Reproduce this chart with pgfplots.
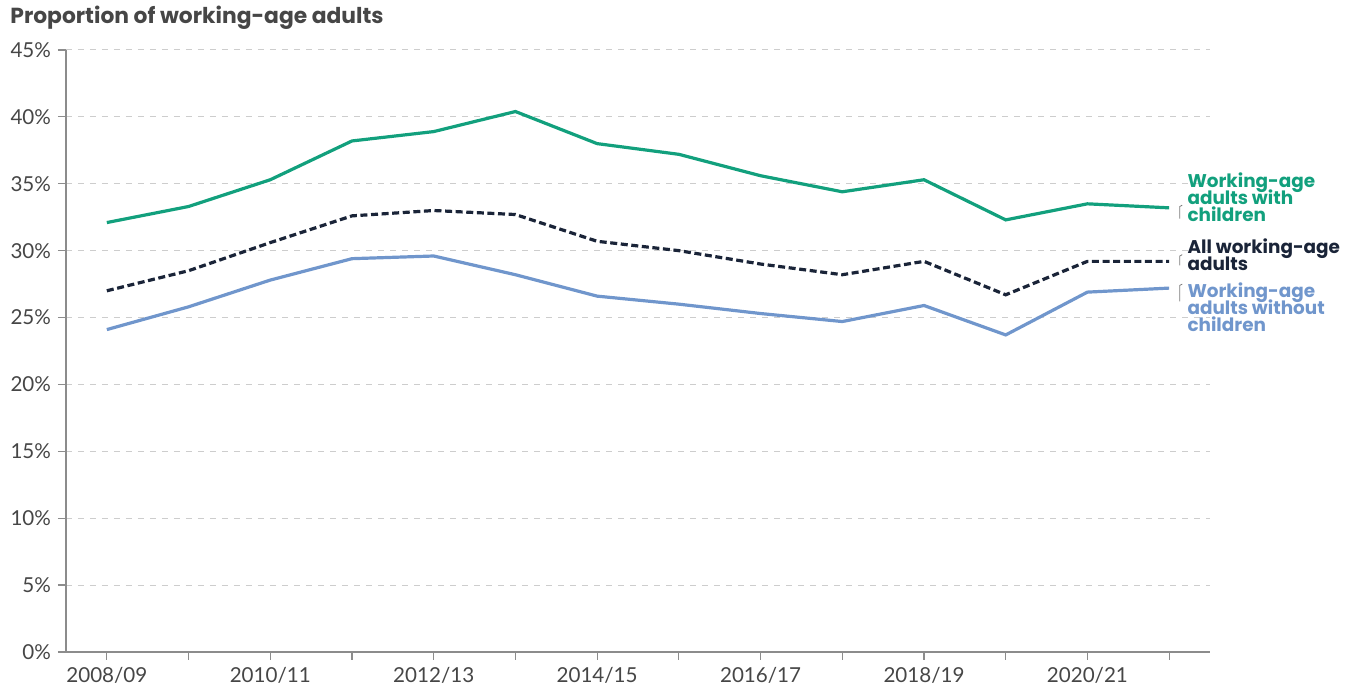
\documentclass[border=0pt]{standalone}
\usepackage{pgfplots}
\pgfplotsset{compat=1.18}
\usepackage{fontspec}
\setmainfont{Poppins}
\newfontfamily\tickfont{Lato}
\newcommand\tightlines{\lineskiplimit=-20pt\relax\lineskip=0pt\relax}
\definecolor{cgreen}{RGB}{18,160,125}
\definecolor{cnavy}{RGB}{26,36,56}
\definecolor{cblue}{RGB}{112,150,204}
\definecolor{ctext}{RGB}{70,70,70}
\definecolor{cgrid}{RGB}{205,205,205}
\definecolor{caxis}{RGB}{140,140,140}
\begin{document}
\begin{tikzpicture}
\begin{axis}[
  scale only axis,
  width=572pt, height=301pt,
  xmin=-0.5, xmax=13.5,
  ymin=0, ymax=45,
  axis x line*=bottom, axis y line*=left,
  axis line style={caxis, line width=0.8pt},
  xtick={0,...,13},
  xticklabels={2008/09,,2010/11,,2012/13,,2014/15,,2016/17,,2018/19,,2020/21,},
  ytick={0,5,...,45},
  yticklabel={\pgfmathprintnumber{\tick}\%},
  /pgf/number format/assume math mode=true,
  tick style={caxis, line width=0.6pt},
  major tick length=4pt,
  xtick align=outside, ytick align=outside,
  ymajorgrids,
  grid style={cgrid, dashed, line width=0.5pt},
  ticklabel style={font=\tickfont\fontsize{10.3}{12}\selectfont, text=ctext},
  clip=false,
]
\coordinate (ll) at (rel axis cs:0,0);
\coordinate (ur) at (rel axis cs:1,1);
\addplot[cgreen, line width=1.6pt] coordinates {
(0,32.1) (1,33.3) (2,35.3) (3,38.2) (4,38.9) (5,40.4) (6,38.0) (7,37.2)
(8,35.6) (9,34.4) (10,35.3) (11,32.3) (12,33.5) (13,33.2)};
\addplot[cnavy, line width=1.6pt, dash pattern=on 3.5pt off 1.8pt] coordinates {
(0,27.0) (1,28.5) (2,30.6) (3,32.6) (4,33.0) (5,32.7) (6,30.7) (7,30.0)
(8,29.0) (9,28.2) (10,29.2) (11,26.7) (12,29.2) (13,29.2)};
\addplot[cblue, line width=1.6pt] coordinates {
(0,24.1) (1,25.8) (2,27.8) (3,29.4) (4,29.6) (5,28.2) (6,26.6) (7,26.0)
(8,25.3) (9,24.7) (10,25.9) (11,23.7) (12,26.9) (13,27.2)};
% label brackets
\draw[cgrid!60!black, line width=0.4pt] (axis cs:13.13,32.4) -- (axis cs:13.13,33.3) -- (axis cs:13.16,33.4);
\draw[cgrid!60!black, line width=0.4pt] (axis cs:13.13,28.9) -- (axis cs:13.13,29.6) -- (axis cs:13.16,29.7);
\draw[cgrid!60!black, line width=0.4pt] (axis cs:13.16,27.5) -- (axis cs:13.13,27.4) -- (axis cs:13.13,26.2);
\node[anchor=west, align=left, text=cgreen, font=\bfseries\fontsize{9.2}{8.5}\selectfont\tightlines, inner sep=0pt] at (axis cs:13.22,34.0) {Working-age\\adults with\\children};
\node[anchor=west, align=left, text=cnavy, font=\bfseries\fontsize{9.2}{8.5}\selectfont\tightlines, inner sep=0pt] at (axis cs:13.22,29.7) {All working-age\\adults};
\node[anchor=west, align=left, text=cblue, font=\bfseries\fontsize{9.2}{8.5}\selectfont\tightlines, inner sep=0pt] at (axis cs:13.22,25.8) {Working-age\\adults without\\children};
\node[anchor=west, text=ctext, font=\bfseries\fontsize{10.9}{12}\selectfont, inner sep=0pt] at ([xshift=-28pt,yshift=16pt]rel axis cs:0,1) {Proportion of working-age adults};
\end{axis}
\path ([xshift=-33pt,yshift=-17.5pt]ll) rectangle ([xshift=73pt,yshift=25pt]ur);
\end{tikzpicture}
\end{document}
